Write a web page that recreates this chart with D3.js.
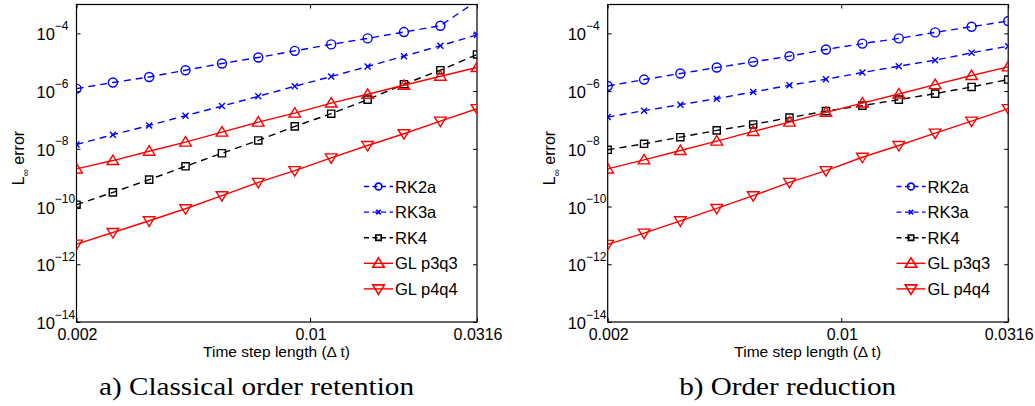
<!DOCTYPE html>
<html>
  <head>
    <title>order retention plot</title>
    <meta charset="UTF-8" />
    <script src="https://d3js.org/d3.v7.min.js"></script>
    <style>
        body { margin: 0; background: #fff; }
        text { font-family: "Liberation Sans", Arial, sans-serif; fill: #000; }
    </style>
  </head>
  <body>
    <script>
        // time step lengths (x)
        var dt = [0.002, 0.00257, 0.0033, 0.00424, 0.00545, 0.007, 0.009, 0.01157, 0.01487, 0.0191, 0.02455, 0.0316];

        var names = ["RK2a", "RK3a", "RK4", "GL p3q3", "GL p4q4"];
        var yTicks = [1e-14, 1e-12, 1e-10, 1e-8, 1e-6, 1e-4];
        var yTickExp = ["\u221214", "\u221212", "\u221210", "\u22128", "\u22126", "\u22124"];
        var xTicks = [0.002, 0.01, 0.0316];
        var xTickLabels = ["0.002", "0.01", "0.0316"];
        var captions = ["a) Classical order retention", "b) Order reduction"];

        // a) classical order retention
        var rk2aA = [1.22e-6, 1.98e-6, 3.09e-6, 5.28e-6, 9.06e-6, 1.46e-5, 2.48e-5, 4.14e-5, 6.70e-5, 1.11e-4, 1.84e-4, 1.33e-3];
        var rk3aA = [1.41e-8, 3.07e-8, 6.46e-8, 1.41e-7, 3.03e-7, 6.59e-7, 1.47e-6, 3.19e-6, 7.11e-6, 1.62e-5, 3.71e-5, 8.93e-5];
        var rk4A  = [1.16e-10, 3.09e-10, 8.55e-10, 2.48e-9, 7.03e-9, 1.95e-8, 5.97e-8, 1.65e-7, 5.06e-7, 1.73e-6, 5.28e-6, 1.86e-5];
        var p3q3A = [2.01e-9, 3.92e-9, 8.26e-9, 1.70e-8, 3.78e-8, 8.41e-8, 1.73e-7, 3.85e-7, 7.74e-7, 1.59e-6, 3.27e-6, 6.56e-6];
        var p4q4A = [4.97e-12, 1.26e-11, 3.21e-11, 8.38e-11, 2.38e-10, 6.89e-10, 1.76e-9, 4.86e-9, 1.30e-8, 3.33e-8, 9.12e-8, 2.46e-7];

        // b) order reduction
        var rk2aB = [1.50e-6, 2.51e-6, 4.06e-6, 6.56e-6, 1.03e-5, 1.62e-5, 2.77e-5, 4.42e-5, 6.70e-5, 1.08e-4, 1.70e-4, 2.68e-4];
        var rk3aB = [1.26e-7, 2.10e-7, 3.39e-7, 5.48e-7, 9.31e-7, 1.59e-6, 2.57e-6, 4.40e-6, 7.29e-6, 1.18e-5, 2.11e-5, 3.61e-5];
        var rk4B  = [9.23e-9, 1.49e-8, 2.53e-8, 4.34e-8, 7.00e-8, 1.20e-7, 2.03e-7, 3.13e-7, 5.06e-7, 8.18e-7, 1.39e-6, 2.51e-6];
        var p3q3B = [2.01e-9, 4.14e-9, 8.71e-9, 1.84e-8, 4.00e-8, 8.41e-8, 1.83e-7, 3.85e-7, 7.94e-7, 1.68e-6, 3.46e-6, 6.89e-6];
        var p4q4B = [4.89e-12, 1.20e-11, 3.21e-11, 8.59e-11, 2.38e-10, 6.89e-10, 1.76e-9, 5.10e-9, 1.30e-8, 3.49e-8, 9.12e-8, 2.46e-7];

        var styles = [
            {color: "#0000ff", dash: "7,5", marker: "circle"},
            {color: "#0000ff", dash: "7,5", marker: "cross"},
            {color: "#000000", dash: "7,5", marker: "square"},
            {color: "#ff0000", dash: null, marker: "up"},
            {color: "#ff0000", dash: null, marker: "down"}
        ];

        var svg = d3.select("body")
            .append("svg")
            .attr("width", 1035)
            .attr("height", 406);

        var top0 = 4.5, bottom0 = 322, plotW = 400.5;

        function markerPath(type, k) {
            k = k || 1;
            if (type == "circle") {
                var r = 4.5 * k;
                return "M" + (-r) + ",0A" + r + "," + r + " 0 1,0 " + r + ",0A" + r + "," + r + " 0 1,0 " + (-r) + ",0Z";
            }
            if (type == "square") {
                var s = 3.6 * k;
                return "M" + (-s) + "," + (-s) + "H" + s + "V" + s + "H" + (-s) + "Z";
            }
            if (type == "cross") {
                var c = 3 * k;
                return "M" + (-c) + "," + (-c) + "L" + c + "," + c + "M" + (-c) + "," + c + "L" + c + "," + (-c);
            }
            if (type == "up") return "M0,-5.5L5.8,4L-5.8,4Z";
            return "M0,5.5L5.8,-4L-5.8,-4Z";
        }

        function drawPanel(left, series, legendX, caption, capWidth, idx) {
            var x = d3.scaleLog().domain([0.002, 0.0316]).range([left, left + plotW]);
            var y = d3.scaleLog().domain([1e-14, 1e-3]).range([bottom0, top0]);

            var clipId = "clip" + idx;
            svg.append("clipPath").attr("id", clipId)
                .append("rect")
                .attr("x", left).attr("y", top0)
                .attr("width", plotW).attr("height", bottom0 - top0);

            // ticks on all four sides, pointing inward
            svg.append("g")
                .attr("transform", "translate(" + left + ",0)")
                .call(d3.axisLeft(y).tickValues(yTicks).tickSizeInner(-4).tickSizeOuter(0).tickFormat(""));
            svg.append("g")
                .attr("transform", "translate(" + (left + plotW) + ",0)")
                .call(d3.axisRight(y).tickValues(yTicks).tickSizeInner(-4).tickSizeOuter(0).tickFormat(""));
            svg.append("g")
                .attr("transform", "translate(0," + bottom0 + ")")
                .call(d3.axisBottom(x).tickValues(xTicks).tickSizeInner(-4).tickSizeOuter(0).tickFormat(""));
            svg.append("g")
                .attr("transform", "translate(0," + top0 + ")")
                .call(d3.axisTop(x).tickValues(xTicks).tickSizeInner(-4).tickSizeOuter(0).tickFormat(""));
            svg.selectAll(".domain").attr("stroke", "none");
            svg.selectAll(".tick line").attr("stroke", "#000");

            svg.append("rect")
                .attr("x", left).attr("y", top0)
                .attr("width", plotW).attr("height", bottom0 - top0)
                .attr("fill", "none").attr("stroke", "#000").attr("stroke-width", 1.2);

            // y tick labels 10^-n
            var yl = svg.append("g").selectAll("text")
                .data(yTicks)
                .enter()
                .append("text")
                .attr("x", left - 40)
                .attr("y", d => y(d) + 7)
                .attr("font-size", "16.5px");
            yl.append("tspan").text("10");
            yl.append("tspan")
                .attr("dy", -10.5)
                .attr("font-size", "12px")
                .text((d, i) => yTickExp[i]);

            svg.append("g").selectAll("text")
                .data(xTicks)
                .enter()
                .append("text")
                .attr("x", d => x(d) + 1)
                .attr("y", bottom0 + 17.5)
                .attr("text-anchor", "middle")
                .attr("font-size", "16px")
                .text((d, i) => xTickLabels[i]);

            svg.append("text")
                .attr("x", left + 200)
                .attr("y", 356.5)
                .attr("text-anchor", "middle")
                .attr("font-size", "15.5px")
                .text("Time step length (\u0394 t)");

            var ylab = svg.append("text")
                .attr("transform", "translate(" + (left - 53) + ",158) rotate(-90)")
                .attr("text-anchor", "middle")
                .attr("font-size", "16px");
            ylab.append("tspan").text("L");
            ylab.append("tspan").attr("dy", 5).attr("font-size", "10px").text("\u221e");
            ylab.append("tspan").attr("dy", -5).text(" error");

            // caption under each panel, serif like the paper
            svg.append("text")
                .attr("x", left + 180)
                .attr("y", 395)
                .attr("text-anchor", "middle")
                .attr("textLength", capWidth)
                .attr("lengthAdjust", "spacingAndGlyphs")
                .style("font-family", "'Liberation Serif', serif")
                .style("font-size", "25px")
                .text(caption);

            var line = d3.line()
                .x((d, i) => x(dt[i]))
                .y(d => y(d));

            var plot = svg.append("g").attr("clip-path", "url(#" + clipId + ")");

            series.forEach(function(vals, s) {
                var st = styles[s];
                plot.append("path")
                    .datum(vals)
                    .attr("d", line)
                    .attr("fill", "none")
                    .attr("stroke", st.color)
                    .attr("stroke-width", 1.4)
                    .attr("stroke-dasharray", st.dash);

                plot.selectAll(".m" + s)
                    .data(vals.filter(v => v <= 1e-3).map((v, i) => [dt[i], v]))
                    .enter()
                    .append("path")
                    .attr("class", "m" + s)
                    .attr("transform", d => "translate(" + x(d[0]) + "," + y(d[1]) + ")")
                    .attr("d", markerPath(st.marker))
                    .attr("fill", "none")
                    .attr("stroke", st.color)
                    .attr("stroke-width", 1.4);
            });

            // legend
            names.forEach(function(n, i) {
                var st = styles[i];
                var ly = 186.5 + i * 25.6;
                svg.append("line")
                    .attr("x1", legendX).attr("x2", legendX + 29)
                    .attr("y1", ly).attr("y2", ly)
                    .attr("stroke", st.color)
                    .attr("stroke-width", 1.4)
                    .attr("stroke-dasharray", st.dash ? "5,3.5" : null);
                svg.append("path")
                    .attr("transform", "translate(" + (legendX + 14.5) + "," + ly + ")")
                    .attr("d", markerPath(st.marker, 0.75))
                    .attr("fill", "none")
                    .attr("stroke", st.color)
                    .attr("stroke-width", 1.6);
                svg.append("text")
                    .attr("x", legendX + 31)
                    .attr("y", ly + 6)
                    .attr("font-size", "16.5px")
                    .text(n);
            });
        }

        drawPanel(76.5, [rk2aA, rk3aA, rk4A, p3q3A, p4q4A], 364, captions[0], 315, 0);
        drawPanel(607.7, [rk2aB, rk3aB, rk4B, p3q3B, p4q4B], 896.5, captions[1], 217, 1);
    </script>
  </body>
</html>
